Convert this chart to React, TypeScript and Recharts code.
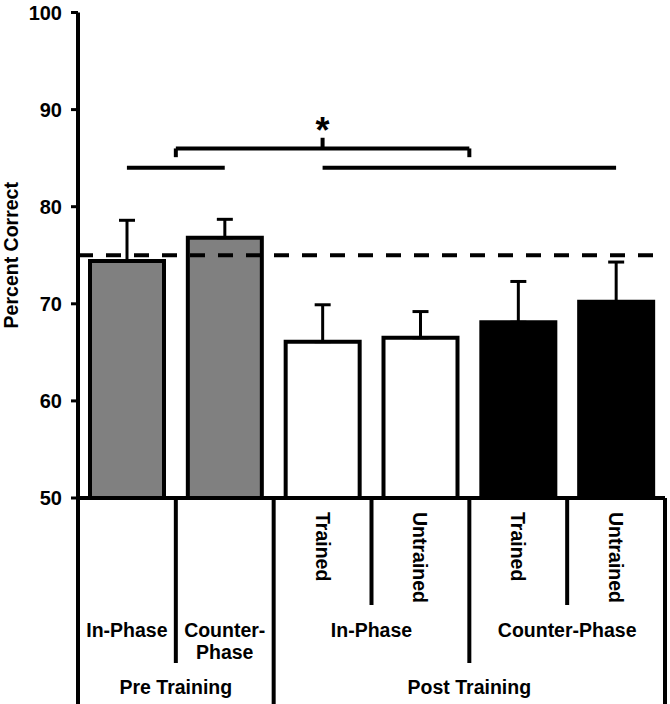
import {
  BarChart,
  Bar,
  XAxis,
  YAxis,
  Cell,
  ErrorBar,
  ReferenceLine,
  ReferenceDot,
} from "recharts";

// values
const conditions = [
  "Pre In-Phase",
  "Pre Counter-Phase",
  "Post In-Phase Trained",
  "Post In-Phase Untrained",
  "Post Counter-Phase Trained",
  "Post Counter-Phase Untrained",
];
const percentCorrect = [74.4, 76.8, 66.1, 66.5, 68.1, 70.2];
const stdError = [4.2, 1.9, 3.8, 2.7, 4.2, 4.1];
const barColors = ["#808080", "#808080", "#ffffff", "#ffffff", "#000000", "#000000"];

const yTicks = [50, 60, 70, 80, 90, 100];
const chanceLevel = 75;

// axis labels, three levels
const subLabels = ["", "", "Trained", "Untrained", "Trained", "Untrained"];
const phaseGroups = [
  { lines: ["In-Phase"], from: 0, to: 1 },
  { lines: ["Counter-", "Phase"], from: 1, to: 2 },
  { lines: ["In-Phase"], from: 2, to: 4 },
  { lines: ["Counter-Phase"], from: 4, to: 6 },
];
const trainingGroups = [
  { label: "Pre Training", from: 0, to: 2 },
  { label: "Post Training", from: 2, to: 6 },
];

// significance bracket (data units: x in category slots, y in percent)
const groupLineY = 84;
const braceY = 86;
const braceEndY = 85.1;
const bracePeakY = 87.1;
const starY = 86.6;

const data = conditions.map((name, i) => ({
  name,
  slot: i + 0.5,
  value: percentCorrect[i],
  err: [0, stdError[i]],
}));

const W = 670;
const H = 704;
const margin = { top: 12.5, right: 5, left: 0, bottom: 0 };
const yAxisW = 78;
const xAxisH = 206;
const band = (W - margin.left - margin.right - yAxisW) / conditions.length;
const font = "'Liberation Sans', Arial, sans-serif";
const lw = 4;

function CategoryTick(props: any) {
  const { x, y } = props;
  const i: number = props.index ?? props.payload?.index ?? 0;
  const left = x - band / 2;
  const right = x + band / 2;
  const bottom = H - y;

  const boundaryLen = (edge: number) => {
    if (edge === 0 || trainingGroups.some((g) => g.to === edge)) return bottom;
    if (phaseGroups.some((g) => g.to === edge)) return 165;
    return 107;
  };

  const textStyle = {
    fontFamily: font,
    fontWeight: 700,
    fontSize: 19.5,
    fill: "#000",
  } as const;

  return (
    <g>
      {i === 0 && <line x1={left} x2={left} y1={y} y2={y + boundaryLen(0)} stroke="#000" strokeWidth={lw} />}
      <line x1={right} x2={right} y1={y} y2={y + boundaryLen(i + 1)} stroke="#000" strokeWidth={lw} />
      {subLabels[i] && (
        <text
          transform={`translate(${x},${y + 14}) rotate(90)`}
          textAnchor="start"
          dominantBaseline="central"
          {...textStyle}
        >
          {subLabels[i]}
        </text>
      )}
      {phaseGroups
        .filter((g) => g.from === i)
        .map((g) => {
          const cx = left + ((g.to - g.from) * band) / 2;
          return g.lines.map((t, k) => (
            <text key={t} x={cx} y={y + 139 + k * 22} textAnchor="middle" {...textStyle}>
              {t}
            </text>
          ));
        })}
      {trainingGroups
        .filter((g) => g.from === i)
        .map((g) => (
          <text
            key={g.label}
            x={left + ((g.to - g.from) * band) / 2}
            y={y + 196}
            textAnchor="middle"
            {...textStyle}
          >
            {g.label}
          </text>
        ))}
    </g>
  );
}

function YLabel(props: any) {
  const vb = props.viewBox || { x: 0, y: 0, width: 0, height: 0 };
  const cx = vb.x + 11;
  const cy = vb.y + vb.height / 2;
  return (
    <text
      transform={`translate(${cx},${cy}) rotate(-90)`}
      textAnchor="middle"
      dominantBaseline="central"
      fontFamily={font}
      fontWeight={700}
      fontSize={19.5}
      fill="#000"
    >
      Percent Correct
    </text>
  );
}

const seg = (x1: number, y1: number, x2: number, y2: number) => (
  <ReferenceLine
    key={`${x1}-${y1}-${x2}-${y2}`}
    xAxisId="num"
    segment={[
      { x: x1, y: y1 },
      { x: x2, y: y2 },
    ]}
    stroke="#000"
    strokeWidth={lw}
    ifOverflow="visible"
  />
);

export default function App() {
  return (
    <div style={{ position: "absolute", left: 0, top: 0, background: "#fff" }}>
      <BarChart width={W} height={H} data={data} margin={margin}>
        <XAxis
          dataKey="name"
          interval={0}
          height={xAxisH}
          tickLine={false}
          tickSize={0}
          tickMargin={0}
          axisLine={{ stroke: "#000", strokeWidth: lw }}
          tick={(p: any) => <CategoryTick {...p} />}
        />
        <XAxis
          xAxisId="num"
          dataKey="slot"
          type="number"
          domain={[0, conditions.length]}
          allowDataOverflow
          height={0}
          hide
        />
        <YAxis
          width={yAxisW}
          domain={[50, 100]}
          ticks={yTicks}
          interval={0}
          allowDataOverflow
          tickSize={7}
          tickMargin={9}
          axisLine={{ stroke: "#000", strokeWidth: lw }}
          tickLine={{ stroke: "#000", strokeWidth: 3 }}
          tick={{ fill: "#000", fontSize: 20, fontWeight: 700, fontFamily: font }}
          label={<YLabel />}
        />
        <Bar dataKey="value" barSize={74} stroke="#000" strokeWidth={lw} isAnimationActive={false}>
          {data.map((d, i) => (
            <Cell key={d.name} fill={barColors[i]} />
          ))}
          <ErrorBar dataKey="err" direction="y" width={8} stroke="#000" strokeWidth={3} />
        </Bar>
        <ReferenceLine y={chanceLevel} stroke="#000" strokeWidth={lw} strokeDasharray="15 13" />
        {seg(0.5, groupLineY, 1.5, groupLineY)}
        {seg(2.5, groupLineY, 5.5, groupLineY)}
        {seg(1, braceY, 4, braceY)}
        {seg(1, braceY, 1, braceEndY)}
        {seg(4, braceY, 4, braceEndY)}
        {seg(2.5, braceY, 2.5, bracePeakY)}
        <ReferenceDot
          xAxisId="num"
          x={2.5}
          y={starY}
          r={0}
          ifOverflow="visible"
          shape={(p: any) => (
            <text x={p.cx} y={p.cy} textAnchor="middle" fontFamily={font} fontWeight={700} fontSize={36} fill="#000">
              *
            </text>
          )}
        />
      </BarChart>
    </div>
  );
}
